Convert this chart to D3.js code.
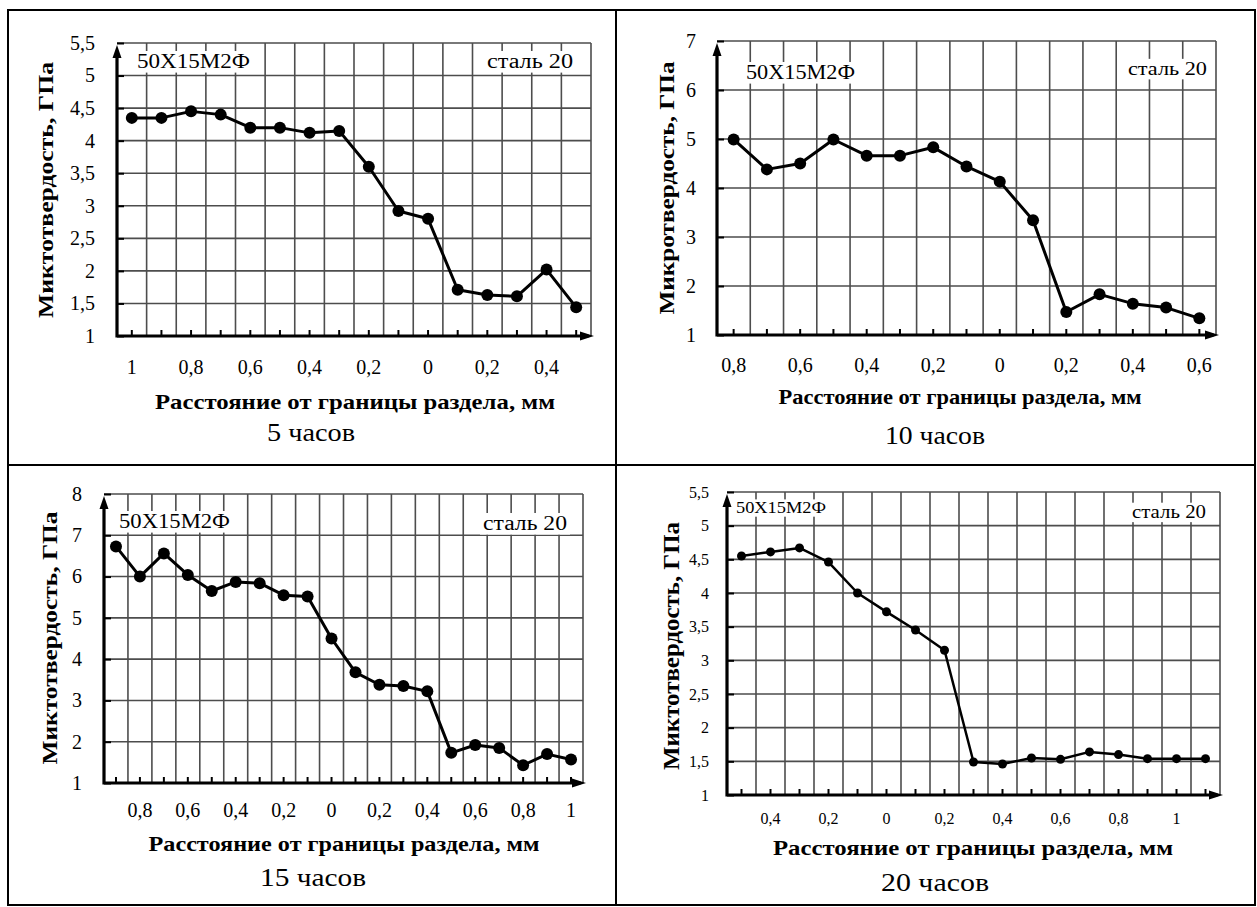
<!DOCTYPE html>
<html>
<head>
<meta charset="utf-8">
<script src="https://cdn.jsdelivr.net/npm/d3@7"></script>
<style>
  html, body { margin: 0; padding: 0; background: #fff; }
</style>
</head>
<body>
<svg id="fig" width="1257" height="907"></svg>
<script>
// Distance from the interface, mm (negative = 50X15M2Ф side, positive = сталь 20 side)
const dist5h  = [-1.0,-0.9,-0.8,-0.7,-0.6,-0.5,-0.4,-0.3,-0.2,-0.1,0,0.1,0.2,0.3,0.4,0.5];
const dist10h = [-0.8,-0.7,-0.6,-0.5,-0.4,-0.3,-0.2,-0.1,0,0.1,0.2,0.3,0.4,0.5,0.6];
const dist15h = [-0.9,-0.8,-0.7,-0.6,-0.5,-0.4,-0.3,-0.2,-0.1,0,0.1,0.2,0.3,0.4,0.5,0.6,0.7,0.8,0.9,1.0];
const dist20h = [-0.5,-0.4,-0.3,-0.2,-0.1,0,0.1,0.2,0.3,0.4,0.5,0.6,0.7,0.8,0.9,1.0,1.1];

// Microhardness, GPa
const hv5h  = [4.35,4.35,4.45,4.40,4.20,4.20,4.12,4.15,3.60,2.92,2.80,1.71,1.63,1.61,2.02,1.44];
const hv10h = [4.99,4.38,4.50,4.99,4.66,4.66,4.83,4.44,4.13,3.34,1.47,1.83,1.64,1.56,1.34];
const hv15h = [6.73,6.00,6.56,6.04,5.65,5.87,5.84,5.55,5.52,4.50,3.68,3.38,3.35,3.22,1.73,1.92,1.85,1.43,1.70,1.57];
const hv20h = [4.55,4.61,4.67,4.46,4.00,3.72,3.45,3.15,1.49,1.46,1.55,1.53,1.64,1.60,1.54,1.54,1.54];

// Y tick values
const yTicks5h  = [1,1.5,2,2.5,3,3.5,4,4.5,5,5.5];
const yTicks10h = [1,2,3,4,5,6,7];
const yTicks15h = [1,2,3,4,5,6,7,8];
const yTicks20h = [1,1.5,2,2.5,3,3.5,4,4.5,5,5.5];

// Texts
const leftMaterial = "50X15M2Ф";
const rightMaterial = "сталь 20";
const xTitle = "Расстояние от границы раздела, мм";
const yTitles = ["Миктотвердость, ГПа", "Микротвердость, ГПа", "Миктотвердость, ГПа", "Миктотвердость,  ГПа"];
const captions = ["5 часов", "10 часов", "15 часов", "20 часов"];

const SERIF = '"Liberation Serif", "Times New Roman", Times, serif';
const ruLocale = d3.formatLocale({decimal: ",", thousands: " ", grouping: [3], currency: ["", ""]});
const fmt = ruLocale.format(".1~f");

const svg = d3.select("#fig").style("font-family", SERIF);

// table frame
const frame = svg.append("g").attr("stroke", "#000").attr("stroke-width", 2).attr("fill", "none");
frame.append("rect").attr("x", 8).attr("y", 10).attr("width", 1247).attr("height", 895);
frame.append("line").attr("x1", 616).attr("x2", 616).attr("y1", 10).attr("y2", 905);
frame.append("line").attr("x1", 8).attr("x2", 1255).attr("y1", 465).attr("y2", 465);

function fit(sel, len) {
  return sel.attr("textLength", len).attr("lengthAdjust", "spacingAndGlyphs");
}
function serif(sel) {
  return sel.attr("font-family", SERIF).style("font-family", SERIF).attr("fill", "#000");
}

const panels = [
  { dist: dist5h, hv: hv5h, yTicks: yTicks5h, yMax: 5.5,
    box: {l: 117, r: 591, t: 43, b: 336}, yLabRight: 95, xLabBase: 374, tickFs: 20,
    r: 6, lw: 3,
    yTitle: {x: 53, cy: 190, len: 256, fs: 21},
    xTitle: {cx: 355, y: 409, len: 400, fs: 22},
    cap: {cx: 311, y: 441, len: 88, fs: 25},
    lm: {x: 137, y: 68, len: 113, fs: 20},
    rm: {x: 487, y: 68, len: 86, fs: 20} },
  { dist: dist10h, hv: hv10h, yTicks: yTicks10h, yMax: 7,
    box: {l: 717, r: 1216, t: 41, b: 335}, yLabRight: 696, xLabBase: 372, tickFs: 20,
    r: 6, lw: 3,
    yTitle: {x: 674, cy: 188, len: 253, fs: 21},
    xTitle: {cx: 960, y: 404, len: 363, fs: 21},
    cap: {cx: 935, y: 444, len: 100, fs: 25},
    lm: {x: 746, y: 79, len: 109, fs: 20},
    rm: {x: 1128, y: 75, len: 79, fs: 19} },
  { dist: dist15h, hv: hv15h, yTicks: yTicks15h, yMax: 8,
    box: {l: 104, r: 583, t: 494, b: 783}, yLabRight: 82, xLabBase: 817, tickFs: 20,
    r: 6, lw: 3,
    yTitle: {x: 57, cy: 638, len: 253, fs: 21},
    xTitle: {cx: 344, y: 851, len: 391, fs: 21},
    cap: {cx: 313, y: 886, len: 106, fs: 25},
    lm: {x: 119, y: 528, len: 111, fs: 20},
    rm: {x: 483, y: 530, len: 84, fs: 20} },
  { dist: dist20h, hv: hv20h, yTicks: yTicks20h, yMax: 5.5,
    box: {l: 727, r: 1220, t: 492, b: 795}, yLabRight: 709, xLabBase: 824, tickFs: 16,
    r: 4.5, lw: 2.5,
    yTitle: {x: 679, cy: 646, len: 248, fs: 23},
    xTitle: {cx: 973, y: 855, len: 400, fs: 22},
    cap: {cx: 935, y: 891, len: 108, fs: 26},
    lm: {x: 736, y: 513, len: 90, fs: 16},
    rm: {x: 1132, y: 518, len: 74, fs: 18} }
];

panels.forEach((p, k) => {
  const g = svg.append("g");
  const {l, r, t, b} = p.box;
  const n = p.dist.length;
  const x = d3.scaleBand().domain(d3.range(n)).range([l, r]).padding(0);
  const y = d3.scaleLinear().domain([1, p.yMax]).range([b, t]);
  const cx = i => x(i) + x.bandwidth() / 2;

  // grid
  const grid = g.append("g").attr("stroke", "#4d4d4d").attr("stroke-width", 1.6);
  grid.selectAll("line.h").data(p.yTicks.slice(1)).join("line")
    .attr("x1", l).attr("x2", r).attr("y1", d => y(d)).attr("y2", d => y(d));
  grid.selectAll("line.v").data(d3.range(1, n + 1)).join("line")
    .attr("x1", d => d < n ? x(d) : r).attr("x2", d => d < n ? x(d) : r)
    .attr("y1", t).attr("y2", b);

  // material labels with white backing
  [["lm", leftMaterial], ["rm", rightMaterial]].forEach(([key, txt]) => {
    const s = p[key];
    g.append("rect").attr("x", s.x - 3).attr("y", s.y - s.fs * 0.85)
      .attr("width", s.len + 6).attr("height", s.fs * 1.08).attr("fill", "#fff");
    fit(serif(g.append("text")).attr("x", s.x).attr("y", s.y)
      .attr("font-size", s.fs).text(txt), s.len);
  });

  // y axis ticks and labels
  const ya = g.append("g").attr("transform", `translate(${l},0)`)
    .call(d3.axisLeft(y).tickValues(p.yTicks).tickSize(-7).tickFormat(fmt));
  ya.attr("font-family", null).attr("font-size", null);
  ya.select(".domain").remove();
  ya.selectAll("line").attr("stroke", "#000").attr("stroke-width", 2);
  serif(ya.selectAll("text")).attr("x", p.yLabRight - l).attr("font-size", p.tickFs);

  // x axis ticks and labels
  const xa = g.append("g").attr("transform", `translate(0,${b})`)
    .call(d3.axisBottom(x).tickSize(-6)
      .tickFormat(i => Math.round(Math.abs(p.dist[i]) * 10) % 2 === 0 ? fmt(Math.abs(p.dist[i])) : ""));
  xa.attr("font-family", null).attr("font-size", null);
  xa.select(".domain").remove();
  xa.selectAll("line").attr("stroke", "#000").attr("stroke-width", 2);
  serif(xa.selectAll("text")).attr("y", p.xLabBase - b).attr("dy", null)
    .attr("font-size", p.tickFs);

  // main axes with arrows
  const ax = g.append("g");
  ax.append("path").attr("d", `M${l},${t + 10}L${l},${b}L${r - 4},${b}`)
    .attr("fill", "none").attr("stroke", "#000").attr("stroke-width", 3.2)
    .attr("stroke-linejoin", "miter").attr("stroke-linecap", "square");
  ax.append("path").attr("d", `M${l},${t + 2}L${l - 4.5},${t + 15}L${l + 4.5},${t + 15}Z`).attr("fill", "#000");
  ax.append("path").attr("d", `M${r + 3},${b}L${r - 11},${b - 4.5}L${r - 11},${b + 4.5}Z`).attr("fill", "#000");

  // data line + markers
  const line = d3.line().x((d, i) => cx(i)).y(d => y(d));
  g.append("path").datum(p.hv).attr("d", line)
    .attr("fill", "none").attr("stroke", "#000").attr("stroke-width", p.lw)
    .attr("stroke-linejoin", "round");
  g.selectAll("circle.pt").data(p.hv).join("circle")
    .attr("cx", (d, i) => cx(i)).attr("cy", d => y(d)).attr("r", p.r).attr("fill", "#000");

  // titles
  fit(serif(g.append("text"))
    .attr("transform", `translate(${p.yTitle.x},${p.yTitle.cy}) rotate(-90)`)
    .attr("text-anchor", "middle").attr("font-weight", "bold")
    .attr("font-size", p.yTitle.fs).text(yTitles[k]), p.yTitle.len);
  fit(serif(g.append("text")).attr("x", p.xTitle.cx).attr("y", p.xTitle.y)
    .attr("text-anchor", "middle").attr("font-weight", "bold")
    .attr("font-size", p.xTitle.fs).text(xTitle), p.xTitle.len);
  fit(serif(g.append("text")).attr("x", p.cap.cx).attr("y", p.cap.y)
    .attr("text-anchor", "middle").attr("font-size", p.cap.fs).text(captions[k]), p.cap.len);
});
</script>
</body>
</html>
